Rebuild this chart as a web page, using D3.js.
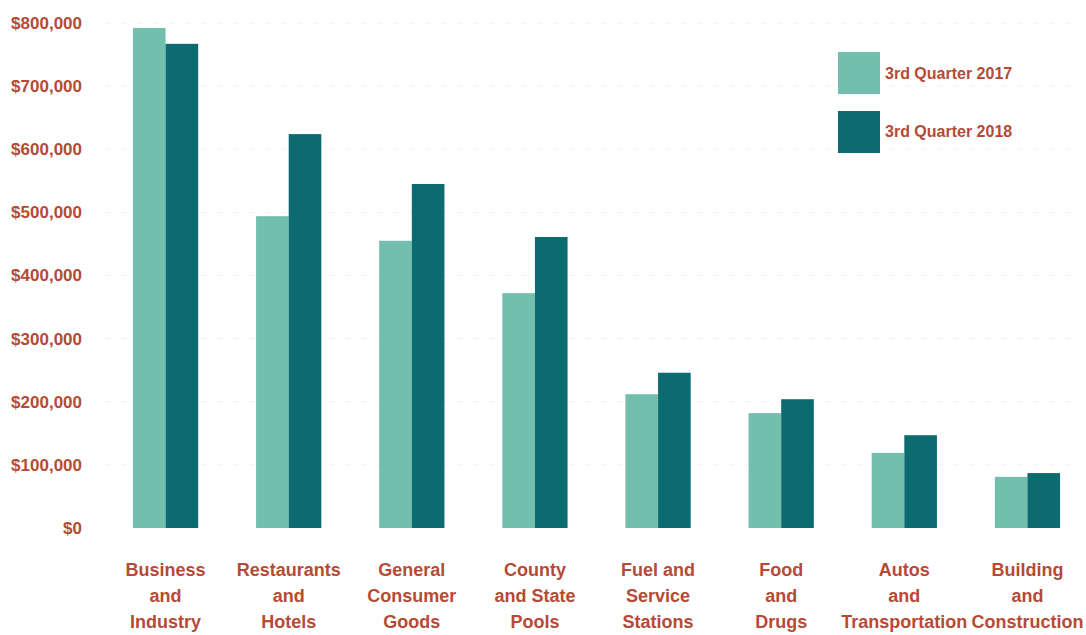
<!DOCTYPE html>
<html><head><meta charset="utf-8">
<script src="https://cdn.jsdelivr.net/npm/d3@7"></script>
<style>html,body{margin:0;padding:0;background:#fff;} svg{display:block;}</style>
</head><body>
<svg id="chart" width="1086" height="635"></svg>
<script>
const categories = [
  ["Business","and","Industry"],
  ["Restaurants","and","Hotels"],
  ["General","Consumer","Goods"],
  ["County","and State","Pools"],
  ["Fuel and","Service","Stations"],
  ["Food","and","Drugs"],
  ["Autos","and","Transportation"],
  ["Building","and","Construction"]
];
const seriesNames = ["3rd Quarter 2017", "3rd Quarter 2018"];
const q3_2017 = [792000, 494000, 455000, 372000, 212000, 182000, 119000, 81000];
const q3_2018 = [767000, 624000, 545000, 461000, 246000, 204000, 147000, 87000];
const yTicks = [0, 100000, 200000, 300000, 400000, 500000, 600000, 700000, 800000];
const colors = ["#72bfad", "#0c6b71"];
const textColor = "#b54a35";
const font = "'Liberation Sans Narrow', 'Arial Narrow', 'Liberation Sans', Arial, sans-serif";

const svg = d3.select("#chart");
const y = d3.scaleLinear().domain([0, 800000]).range([528, 23]);
const x0 = d3.scaleBand().domain(d3.range(categories.length)).range([104, 1089]).paddingInner(0.47).paddingOuter(0.235);
const x1 = d3.scaleBand().domain([0, 1]).range([0, x0.bandwidth()]);

// faint grid
svg.append("g").selectAll("line").data(yTicks.slice(1)).join("line")
  .attr("x1", 105).attr("x2", 1080)
  .attr("y1", d => y(d)).attr("y2", d => y(d))
  .attr("stroke", "#f0f0f0").attr("stroke-width", 1).attr("stroke-dasharray", "6,10");

// y axis labels
const yAxis = d3.axisLeft(y).tickValues(yTicks).tickSize(0).tickPadding(0)
  .tickFormat(d => "$" + d3.format(",")(d));
const gy = svg.append("g").attr("transform", "translate(82,0)").call(yAxis);
gy.select(".domain").remove();
gy.selectAll("text").attr("fill", textColor).style("font-family", font)
  .style("font-size", "17px").style("font-weight", "bold");

// bars
const groups = svg.append("g").selectAll("g").data(categories.map((c, i) => i)).join("g")
  .attr("transform", i => `translate(${x0(i)},0)`);
groups.selectAll("rect").data(i => [q3_2017[i], q3_2018[i]]).join("rect")
  .attr("x", (d, j) => x1(j)).attr("width", x1.bandwidth())
  .attr("y", d => y(d)).attr("height", d => y(0) - y(d))
  .attr("fill", (d, j) => colors[j]);

// category labels
const xl = svg.append("g");
categories.forEach((lines, i) => {
  const t = xl.append("text").attr("text-anchor", "middle")
    .attr("x", x0(i) + x0.bandwidth() / 2)
    .attr("fill", textColor).style("font-family", font)
    .style("font-size", "18px").style("font-weight", "bold");
  lines.forEach((ln, k) => {
    t.append("tspan").attr("x", x0(i) + x0.bandwidth() / 2).attr("y", 576 + k * 26).text(ln);
  });
});

// legend
const lg = svg.append("g");
seriesNames.forEach((s, j) => {
  lg.append("rect").attr("x", 838).attr("y", 52 + j * 59).attr("width", 42).attr("height", 42).attr("fill", colors[j]);
  lg.append("text").attr("x", 885).attr("y", 79 + j * 58).attr("fill", textColor)
    .style("font-family", font).style("font-size", "16px").style("font-weight", "bold").text(s);
});
</script>
</body></html>
